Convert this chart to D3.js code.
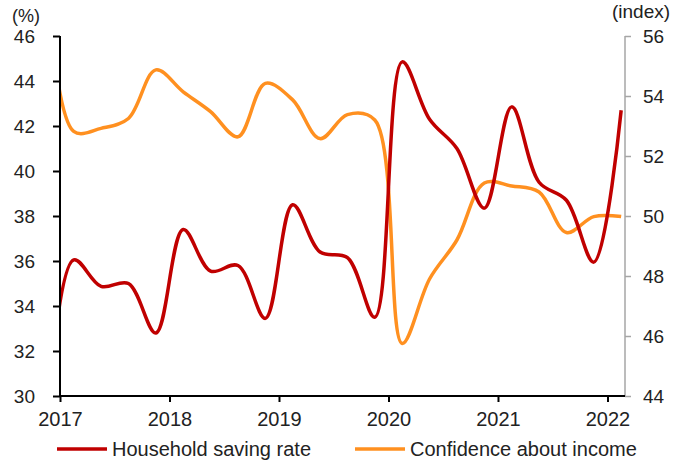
<!DOCTYPE html>
<html>
<head>
<meta charset="utf-8">
<script src="https://cdn.jsdelivr.net/npm/d3@7"></script>
<style>
  body { margin: 0; background: #fff; }
  svg { display: block; font-family: "Liberation Sans", Arial, sans-serif; }
</style>
</head>
<body>
<svg id="chart" width="689" height="468"></svg>
<script>
// quarterly data, plotted at mid-quarter
const quarters = ["2016Q4",
  "2017Q1", "2017Q2", "2017Q3", "2017Q4",
  "2018Q1", "2018Q2", "2018Q3", "2018Q4",
  "2019Q1", "2019Q2", "2019Q3", "2019Q4",
  "2020Q1", "2020Q2", "2020Q3", "2020Q4",
  "2021Q1", "2021Q2", "2021Q3", "2021Q4",
  "2022Q1"];
const savingRate = [28.5,
  36.05, 34.87, 35.0, 32.8,
  37.4, 35.55, 35.8, 33.45,
  38.5, 36.4, 36.15, 33.5,
  44.85, 42.3, 41.0, 38.35,
  42.85, 39.5, 38.7, 35.95,
  42.7];
const confidence = [58.0,
  52.82, 52.92, 53.25, 54.87,
  54.14, 53.48, 52.64, 54.42,
  53.87, 52.58, 53.38, 53.2,
  45.75, 47.9, 49.2, 51.1,
  51.0, 50.8, 49.45, 49.98,
  49.98];
const yearTicks = [2017, 2018, 2019, 2020, 2021, 2022];
const leftTicks = [30, 32, 34, 36, 38, 40, 42, 44, 46];
const rightTicks = [44, 46, 48, 50, 52, 54, 56];

const qToYear = q => +q.slice(0, 4) + (+q.slice(5) - 0.5) / 4;

const svg = d3.select("#chart");
const margin = { top: 36, right: 64, bottom: 72, left: 60 };
const width = 689, height = 468;

const x = d3.scaleLinear()
  .domain([2017, 2022.16])
  .range([margin.left, width - margin.right]);
const yL = d3.scaleLinear().domain([30, 46]).range([height - margin.bottom, margin.top]);
const yR = d3.scaleLinear().domain([44, 56]).range([height - margin.bottom, margin.top]);

svg.append("defs").append("clipPath").attr("id", "plot")
  .append("rect")
  .attr("x", margin.left).attr("y", margin.top - 5)
  .attr("width", width - margin.right - margin.left)
  .attr("height", height - margin.bottom - margin.top + 5);

const savingLine = d3.line()
  .x((d, i) => x(qToYear(quarters[i])))
  .y(d => yL(d))
  .curve(d3.curveCatmullRom.alpha(0.5));
const confLine = d3.line()
  .x((d, i) => x(qToYear(quarters[i])))
  .y(d => yR(d))
  .curve(d3.curveCatmullRom.alpha(0.5));

const lines = svg.append("g").attr("clip-path", "url(#plot)");
lines.append("path").datum(confidence)
  .attr("d", confLine)
  .attr("fill", "none").attr("stroke", "#FF9020").attr("stroke-width", 3.5);
lines.append("path").datum(savingRate)
  .attr("d", savingLine)
  .attr("fill", "none").attr("stroke", "#C00000").attr("stroke-width", 3.5);

// axes
const left = svg.append("g")
  .attr("transform", `translate(${margin.left},0)`)
  .call(d3.axisLeft(yL).tickValues(leftTicks).tickSize(7).tickPadding(18));
const right = svg.append("g")
  .attr("transform", `translate(${width - margin.right},0)`)
  .call(d3.axisRight(yR).tickValues(rightTicks).tickSize(6).tickPadding(12));
const bottom = svg.append("g")
  .attr("transform", `translate(0,${height - margin.bottom})`)
  .call(d3.axisBottom(x).tickValues(yearTicks).tickFormat(d3.format("d")).tickSize(6).tickPadding(10));

[left, bottom].forEach(g => {
  g.select(".domain").attr("stroke", "#000").attr("stroke-width", 2);
  g.selectAll(".tick line").attr("stroke", "#000").attr("stroke-width", 2);
});
right.select(".domain").attr("stroke", "#a6a6a6").attr("stroke-width", 1.5);
right.selectAll(".tick line").attr("stroke", "#a6a6a6").attr("stroke-width", 1.5);
bottom.select(".domain").attr("d", `M${margin.left},0H${width - margin.right}`);
left.select(".domain").attr("d", `M0,${margin.top}V${height - margin.bottom}`);
right.select(".domain").attr("d", `M0,${margin.top}V${height - margin.bottom}`);

svg.selectAll(".tick text")
  .attr("fill", "#222")
  .style("font-family", "'Liberation Sans', Arial, sans-serif");
left.selectAll(".tick text").style("font-size", "19px");
right.selectAll(".tick text").style("font-size", "19px");
bottom.selectAll(".tick text").style("font-size", "20px");

// unit labels
svg.append("text").attr("x", 12).attr("y", 22)
  .attr("fill", "#222").style("font-size", "18px").text("(%)");
svg.append("text").attr("x", 612).attr("y", 18)
  .attr("fill", "#222").style("font-size", "19px").text("(index)");

// legend
const legend = [
  { name: "Household saving rate", color: "#C00000", x: 57 },
  { name: "Confidence about income", color: "#FF9020", x: 355 }
];
const lg = svg.append("g").selectAll("g").data(legend).join("g")
  .attr("transform", d => `translate(${d.x},449)`);
lg.append("line").attr("x1", 0).attr("x2", 50)
  .attr("stroke", d => d.color).attr("stroke-width", 3.5);
lg.append("text").attr("x", 55).attr("y", 6.5)
  .attr("fill", "#222").style("font-size", "20px")
  .text(d => d.name);
</script>
</body>
</html>
